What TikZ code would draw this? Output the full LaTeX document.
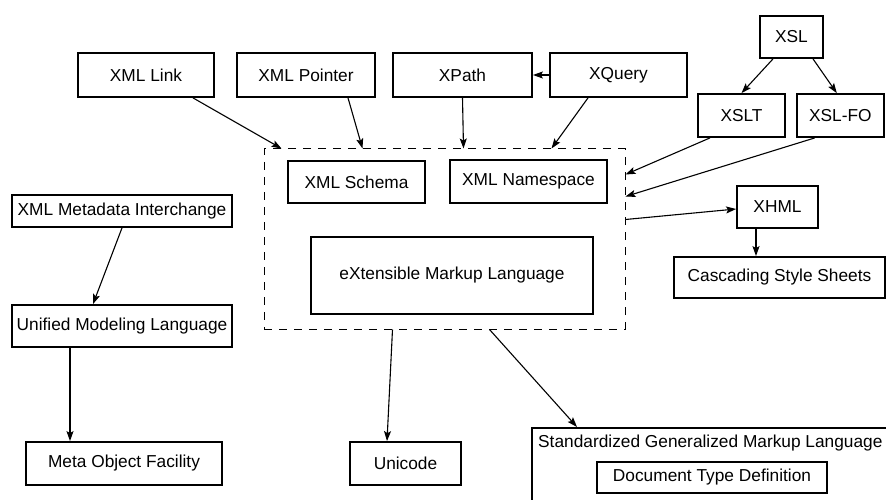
\documentclass[tikz,border=0pt]{standalone}
\usepackage{fontspec}
\setmainfont{Liberation Sans}
\usetikzlibrary{arrows.meta, positioning}

\begin{document}
\begin{tikzpicture}[
        x=1pt, y=-1pt,
        every node/.style={font=\fontsize{17.3}{20}\selectfont, inner sep=0pt},
        box/.style={draw, line width=1.8pt, minimum height=42pt},
        frame/.style={draw, line width=1pt, dash pattern=on 8pt off 7pt},
        arrow/.style={-{Stealth[length=10pt, width=7pt, inset=2pt]}, line width=1.1pt}
        ]
        \useasboundingbox (0,0) rectangle (886,500);

        % top row
        \node (link) [box, minimum width=136pt, minimum height=44pt] at (146,75) {XML Link};
        \node (pointer) [box, minimum width=138pt, minimum height=44pt] at (306,75) {XML Pointer};
        \node (xpath) [box, minimum width=139pt, minimum height=44pt] at (462.5,75) {XPath};
        \node (xquery) [box, minimum width=137pt, minimum height=44pt] at (618.5,75) {XQuery};

        % XSL family
        \node (xsl) [box, minimum width=63pt] at (791.5,37) {XSL};
        \node (xslt) [box, minimum width=87pt, minimum height=43pt] at (741.5,115.5) {XSLT};
        \node (xslfo) [box, minimum width=87pt, minimum height=43pt, right=10pt of xslt] {XSL-FO};

        % XML core
        \node (frame) [frame, minimum width=361pt, minimum height=180pt] at (444.5,239) {};
        \node (schema) [box, minimum width=137pt] at (356.5,182) {XML Schema};
        \node (namespace) [box, minimum width=157pt, minimum height=43pt] at (528.5,181.5) {XML Namespace};
        \node (xml) [box, minimum width=282pt, minimum height=77pt] at (452,275.5) {eXtensible Markup Language};

        \node (xhml) [box, minimum width=81pt] at (777.5,207) {XHML};
        \node (css) [box, minimum width=211pt, minimum height=41pt] at (779.5,277.5) {Cascading Style Sheets};

        % left column
        \node (xmi) [box, minimum width=220pt, minimum height=32pt] at (122,211) {XML Metadata Interchange};
        \node (uml) [box, minimum width=220pt] at (122,326) {Unified Modeling Language};
        \node (mof) [box, minimum width=196pt, minimum height=43pt] at (124,463.5) {Meta Object Facility};

        % bottom
        \node (unicode) [box, minimum width=111pt, minimum height=43pt] at (405.5,463.5) {Unicode};
        \node (sgml) [box, anchor=north west, minimum width=400pt, minimum height=100pt] at (531,427) {};
        \node (sgmltitle) [anchor=west] at ([xshift=7pt, yshift=-16pt]sgml.north west) {Standardized Generalized Markup Language};
        \node (dtd) [box, minimum width=230pt, minimum height=31pt] at (712,477.5) {Document Type Definition};

        \draw[arrow] ([xshift=47pt]link.south) -- ([xshift=18pt]frame.north west);
        \draw[arrow] ([xshift=42pt]pointer.south) -- ([xshift=99pt]frame.north west);
        \draw[arrow] (xpath.south) -- ([xshift=200pt]frame.north west);
        \draw[arrow] ([xshift=-30.5pt]xquery.south) -- ([xshift=288pt]frame.north west);
        \draw[arrow] (xquery.west) -- (xpath.east);
        \draw[arrow] ([xshift=-18.5pt]xsl.south) -- (xslt.north);
        \draw[arrow] ([xshift=21.5pt]xsl.south) -- ([xshift=-3.5pt]xslfo.north);
        \draw[arrow] ([xshift=-31.5pt]xslt.south) -- ([yshift=-26pt]frame.north east);
        \draw[arrow] ([xshift=-25.5pt]xslfo.south) -- ([yshift=-48pt]frame.north east);
        \draw[arrow] ([yshift=-71pt]frame.north east) -- ([yshift=-2pt]xhml.west);
        \draw[arrow] ([xshift=-21.5pt]xhml.south) -- ([xshift=-23.5pt]css.north);
        \draw[arrow] (xmi.south) -- ([xshift=-29pt]uml.north);
        \draw[arrow] ([xshift=-52pt]uml.south) -- ([xshift=-54pt]mof.north);
        \draw[arrow] ([xshift=129pt]frame.south west) -- ([xshift=-18.5pt]unicode.north);
        \draw[arrow] ([xshift=226pt]frame.south west) -- ([xshift=46pt]sgml.north west);
    \end{tikzpicture}
\end{document}
